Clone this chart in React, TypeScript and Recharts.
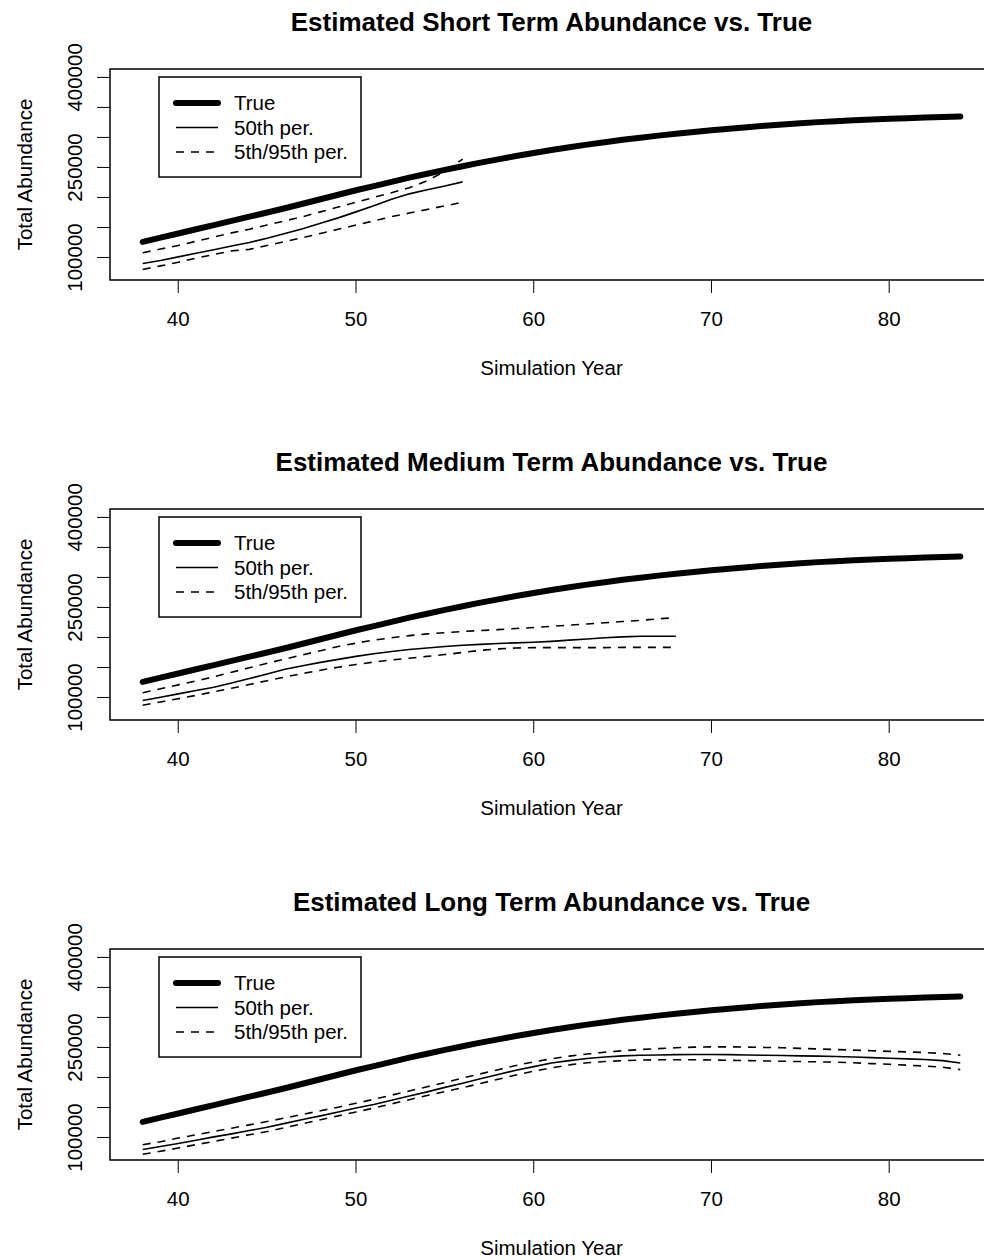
import { LineChart, Line, XAxis, YAxis, ReferenceArea, Legend, Customized } from 'recharts';

// Simulation years and true abundance (shared by all three panels)
const years = [
  38, 39, 40, 41, 42, 43, 44, 45, 46, 47, 48, 49, 50, 51, 52, 53, 54, 55, 56, 57, 58, 59, 60, 61,
  62, 63, 64, 65, 66, 67, 68, 69, 70, 71, 72, 73, 74, 75, 76, 77, 78, 79, 80, 81, 82, 83, 84,
];
const trueAbundance = [
  126000, 133000, 140000, 147000, 154000, 161000, 168000, 175000, 182000, 189500, 197000, 204500,
  212000, 219000, 226000, 233000, 239500, 246000, 252000, 258000, 263500, 269000, 274000, 279000,
  283500, 288000, 292000, 296000, 299500, 303000, 306000, 309000, 312000, 314500, 317000, 319500,
  321500, 323500, 325500, 327000, 328500, 330000, 331000, 332000, 333000, 334000, 335000,
];

// Short term estimates (years 38-56)
const shortP05 = [
  80000, 86000, 92000, 99000, 105000, 111000, 113500, 120000, 126500, 133000, 140000, 147000,
  154000, 161000, 168000, 174000, 180000, 186000, 192000,
];
const shortP50 = [
  90000, 95000, 101000, 107000, 113000, 119000, 125000, 132000, 140000, 148000, 157000, 166000,
  176000, 186000, 197000, 206000, 213000, 219000, 226000,
];
const shortP95 = [
  108000, 114000, 120000, 127000, 134000, 141000, 147000, 154000, 161000, 168000, 176000, 184000,
  192000, 200000, 208000, 216000, 228000, 243000, 264000,
];

// Medium term estimates (years 38-68)
const mediumP05 = [
  87000, 92500, 98000, 103500, 109500, 115500, 121500, 128000, 134000, 140000, 145500, 150500,
  155000, 159000, 162500, 165500, 168500, 171500, 175000, 178500, 181000, 182500, 183000, 183000,
  183000, 183000, 183000, 183500, 183500, 183500, 183500,
];
const mediumP50 = [
  95000, 100500, 106000, 111500, 117000, 124000, 131500, 139000, 147000, 153000, 158500, 163500,
  168500, 173000, 176500, 180000, 182500, 185000, 187000, 188500, 190000, 191000, 192000, 193500,
  195500, 197500, 199500, 201000, 202000, 202000, 202000,
];
const mediumP95 = [
  108000, 114500, 121000, 127500, 134500, 142000, 149500, 157000, 164000, 171000, 178000, 185000,
  190500, 195500, 199500, 203000, 206000, 208000, 210000, 211500, 213000, 215000, 216500, 218500,
  220500, 222500, 224500, 226500, 228500, 231000, 233000,
];

// Long term estimates (years 38-84)
const longP05 = [
  72000, 77000, 82500, 88000, 93500, 99000, 104500, 110000, 116500, 123000, 129500, 136000,
  142500, 149000, 156000, 163000, 170000, 176500, 183000, 190000, 197000, 204000, 210500, 216000,
  221000, 224500, 226500, 228000, 229000, 229500, 229500, 229500, 229000, 228500, 228000, 227500,
  227000, 226500, 226000, 225500, 224500, 223000, 222000, 220500, 219000, 217000, 213000,
];
const longP50 = [
  80000, 85000, 90000, 95500, 101000, 106000, 111500, 117000, 123500, 130000, 136000, 142500,
  149000, 155000, 162000, 169000, 176000, 183500, 190500, 198000, 205000, 212000, 218000, 224000,
  228000, 231500, 234000, 236000, 237000, 237500, 238000, 238300, 238300, 238000, 237500, 237000,
  236500, 236000, 235500, 235000, 234000, 233000, 232000, 231000, 230000, 228000, 224000,
];
const longP95 = [
  88000, 93000, 99000, 104500, 110000, 115500, 121000, 126500, 132500, 138500, 144500, 150500,
  157000, 163500, 170500, 177500, 184500, 191500, 199000, 206000, 213000, 220000, 226000, 231000,
  235500, 239000, 242000, 244500, 246500, 248000, 249500, 250500, 251000, 251000, 250500, 250000,
  249500, 248500, 247500, 246500, 245500, 244500, 243500, 242500, 241500, 240000, 237000,
];

const xTicks = [40, 50, 60, 70, 80];
const yTicks = [100000, 150000, 200000, 250000, 300000, 350000, 400000];
const yLabelled = [100000, 250000, 400000];

const X_DOMAIN: [number, number] = [36.16, 85.84];
const Y_DOMAIN: [number, number] = [62500, 414000];

const FONT = '"Liberation Sans", Arial, Helvetica, sans-serif';
const CHART_W = 1010;
const CHART_H = 440;
const PLOT_LEFT = 110;
const PLOT_TOP = 69;
const PLOT_BOTTOM = 280;
const PLOT_RIGHT = 993;

const buildRows = (p05: number[], p50: number[], p95: number[]) =>
  years.map((year, i) => ({
    year,
    trueN: trueAbundance[i],
    p05: p05[i],
    p50: p50[i],
    p95: p95[i],
  }));

const YTick = (props: any) => {
  const { x, y, payload } = props;
  if (!yLabelled.includes(payload.value)) return <g />;
  return (
    <text
      x={x}
      y={y}
      transform={`rotate(-90, ${x}, ${y})`}
      textAnchor="middle"
      fontSize={20.5}
      fontFamily={FONT}
      fill="#000"
    >
      {payload.value}
    </text>
  );
};

const LegendBox = () => (
  <svg width={204} height={102} style={{ display: 'block' }}>
    <rect x={1} y={1} width={202} height={100} fill="#fff" stroke="#000" strokeWidth={1.5} />
    <line x1={18} x2={60} y1={27} y2={27} stroke="#000" strokeWidth={6} strokeLinecap="round" />
    <line x1={18} x2={60} y1={51.5} y2={51.5} stroke="#000" strokeWidth={1.6} />
    <line x1={18} x2={60} y1={76} y2={76} stroke="#000" strokeWidth={1.6} strokeDasharray="8 7" />
    <g fontSize={20.5} fontFamily={FONT} fill="#000">
      <text x={76} y={34}>True</text>
      <text x={76} y={58.5}>50th per.</text>
      <text x={76} y={83}>5th/95th per.</text>
    </g>
  </svg>
);

const Panel = ({ title, rows }: { title: string; rows: any[] }) => {
  const cx = (PLOT_LEFT + PLOT_RIGHT) / 2;
  const cy = (PLOT_TOP + PLOT_BOTTOM) / 2;
  return (
    <LineChart
      width={CHART_W}
      height={CHART_H}
      data={rows}
      margin={{ top: PLOT_TOP, right: CHART_W - PLOT_RIGHT, bottom: 0, left: 0 }}
    >
      <XAxis
        dataKey="year"
        type="number"
        domain={X_DOMAIN}
        ticks={xTicks}
        allowDataOverflow
        axisLine={false}
        tickSize={13}
        tickMargin={18}
        height={CHART_H - PLOT_BOTTOM}
        stroke="#000"
        tick={{ fill: '#000', fontSize: 20.5, fontFamily: FONT }}
      />
      <YAxis
        type="number"
        domain={Y_DOMAIN}
        ticks={yTicks}
        allowDataOverflow
        axisLine={false}
        tickSize={13}
        tickMargin={15}
        width={PLOT_LEFT}
        stroke="#000"
        tick={<YTick />}
      />
      <ReferenceArea
        x1={X_DOMAIN[0]}
        x2={X_DOMAIN[1]}
        y1={Y_DOMAIN[0]}
        y2={Y_DOMAIN[1]}
        fill="none"
        fillOpacity={0}
        stroke="#000"
        strokeWidth={1.5}
      />
      <Line dataKey="trueN" type="linear" stroke="#000" strokeWidth={6} strokeLinecap="round" dot={false} isAnimationActive={false} />
      <Line dataKey="p50" type="linear" stroke="#000" strokeWidth={1.6} dot={false} isAnimationActive={false} />
      <Line dataKey="p95" type="linear" stroke="#000" strokeWidth={1.6} strokeDasharray="8 7" dot={false} isAnimationActive={false} />
      <Line dataKey="p05" type="linear" stroke="#000" strokeWidth={1.6} strokeDasharray="8 7" dot={false} isAnimationActive={false} />
      <Legend
        layout="vertical"
        align="center"
        verticalAlign="middle"
        content={() => <LegendBox />}
        wrapperStyle={{ position: 'absolute', left: 158, top: 76, width: 204, height: 102 }}
      />
      <Customized
        component={() => (
          <g fontFamily={FONT} fill="#000">
            <text x={cx} y={31} textAnchor="middle" fontSize={26} fontWeight="bold">
              {title}
            </text>
            <text x={cx} y={375} textAnchor="middle" fontSize={20.5}>
              Simulation Year
            </text>
            <text x={32} y={cy} transform={`rotate(-90, 32, ${cy})`} textAnchor="middle" fontSize={20.5}>
              Total Abundance
            </text>
          </g>
        )}
      />
    </LineChart>
  );
};

const App = () => (
  <div
    style={{
      position: 'absolute',
      left: 0,
      top: 0,
      width: 984,
      height: 1260,
      overflow: 'hidden',
      background: '#fff',
    }}
  >
    <Panel title="Estimated Short Term Abundance vs. True" rows={buildRows(shortP05, shortP50, shortP95)} />
    <Panel title="Estimated Medium Term Abundance vs. True" rows={buildRows(mediumP05, mediumP50, mediumP95)} />
    <Panel title="Estimated Long Term Abundance vs. True" rows={buildRows(longP05, longP50, longP95)} />
  </div>
);

export default App;
